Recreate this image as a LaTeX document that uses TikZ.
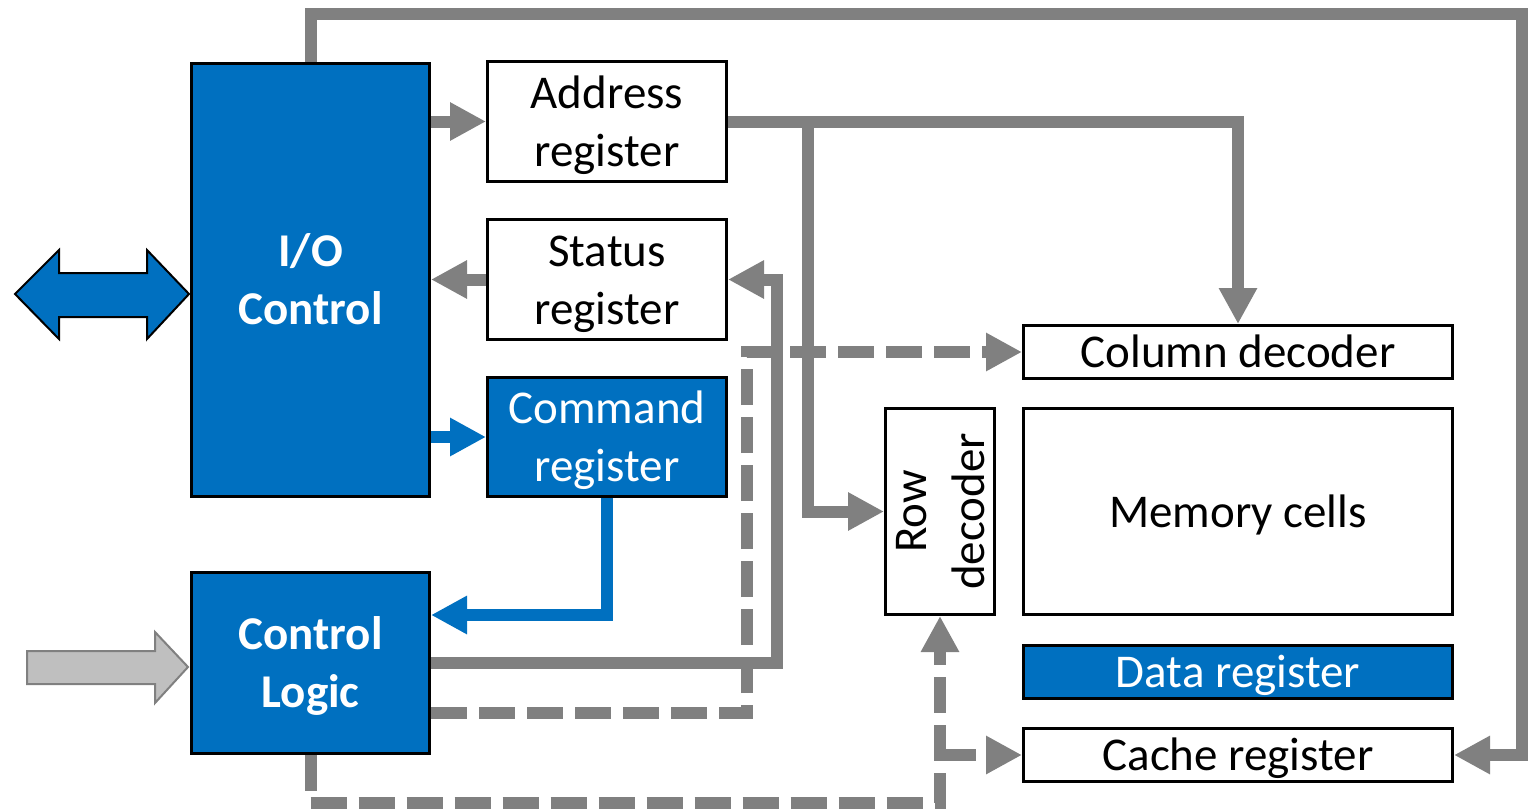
\documentclass[tikz,border=0pt]{standalone}
\usepackage{fontspec}
\setmainfont{Carlito}
\usetikzlibrary{arrows.meta}
\definecolor{ablue}{HTML}{0070C0}
\definecolor{agray}{HTML}{808080}
\definecolor{lgray}{HTML}{BFBFBF}

\begin{document}
\begin{tikzpicture}[x=1pt,y=-1pt,
  box/.style={draw=black, line width=3pt, fill=white, inner sep=0pt,
              align=center, font=\fontsize{47}{58}\selectfont},
  bluebox/.style={box, fill=ablue, text=white},
  oneline/.style={text height=41pt, text depth=10pt},
  twoline/.style={text height=99pt, text depth=10pt},
  tip/.style={-{Triangle[length=36pt,width=36pt]}},
  bus/.style={draw=agray, line width=12pt, tip},
  bluebus/.style={draw=ablue, line width=12pt, tip},
  dbus/.style={bus, dash pattern=on 36pt off 12pt}
]
\useasboundingbox (0,0) rectangle (1529,809);
\fill[white] (0,0) rectangle (1529,809);

% external interface arrows
\draw[fill=ablue, draw=black, line width=2pt, line join=miter]
  (15,294) -- (59,250) -- (59,273) -- (147,273) -- (147,250) -- (189,294)
  -- (147,339) -- (147,317) -- (59,317) -- (59,339) -- cycle;
\draw[fill=lgray, draw=agray, line width=2pt, line join=miter]
  (27,651) -- (155,651) -- (155,632) -- (188,667) -- (155,703)
  -- (155,684) -- (27,684) -- cycle;

% blocks
\node[bluebox, twoline, minimum width=238pt, minimum height=433pt] (io) at (310.5,280)
  {\textbf{I/O}\\\textbf{Control}};
\node[box, twoline, minimum width=239pt, minimum height=120pt] (addr) at (607,121.5)
  {Address\\register};
\node[box, twoline, minimum width=239pt, minimum height=120pt] (status) at (607,279.5)
  {Status\\register};
\node[bluebox, twoline, minimum width=239pt, minimum height=119pt] (cmd) at (607,437)
  {Command\\register};
\node[bluebox, twoline, minimum width=238pt, minimum height=181pt] (ctrl) at (310.5,663)
  {\textbf{Control}\\\textbf{Logic}};
\node[box, oneline, minimum width=429pt, minimum height=53pt] (col) at (1238,352)
  {Column decoder};
\node[box, twoline, rotate=90, minimum width=206pt, minimum height=107pt] (row) at (940,511.5)
  {Row\\decoder};
\node[box, oneline, minimum width=429pt, minimum height=206pt] (mem) at (1238,511.5)
  {Memory cells};
\node[bluebox, oneline, minimum width=429pt, minimum height=53pt] (data) at (1238,672)
  {Data register};
\node[box, oneline, minimum width=429pt, minimum height=53pt] (cache) at (1238,755)
  {Cache register};

% address and status paths (row decoder is turned: its north side faces left, its west side faces down)
\draw[bus] (io.east |- addr.west) -- (addr.west);
\draw[bus] (status.west) -- (io.east |- status.west);
\draw[bus] (addr.east) -| (col.north);
\coordinate (abr) at (808,121.5);
\draw[bus] (abr) |- (row.north);

% command path
\draw[bluebus] (io.east |- cmd.west) -- (cmd.west);
\draw[bluebus] (cmd.south) |- (ctrl.east |- 0,615);

% control logic outputs
\draw[bus] (ctrl.east) -- ++(345.5,0) |- (status.east);
\draw[dbus] (ctrl.east |- 0,713) -| (747,352) -- (col.west);
\draw[dbus] (ctrl.south) |- (row.west |- 0,803) -- (row.west);
\draw[dbus] (row.west |- cache.west) -- (cache.west);

% data path from I/O to cache register
\draw[bus] (io.north) |- (1522,14) |- (cache.east);
\end{tikzpicture}
\end{document}
